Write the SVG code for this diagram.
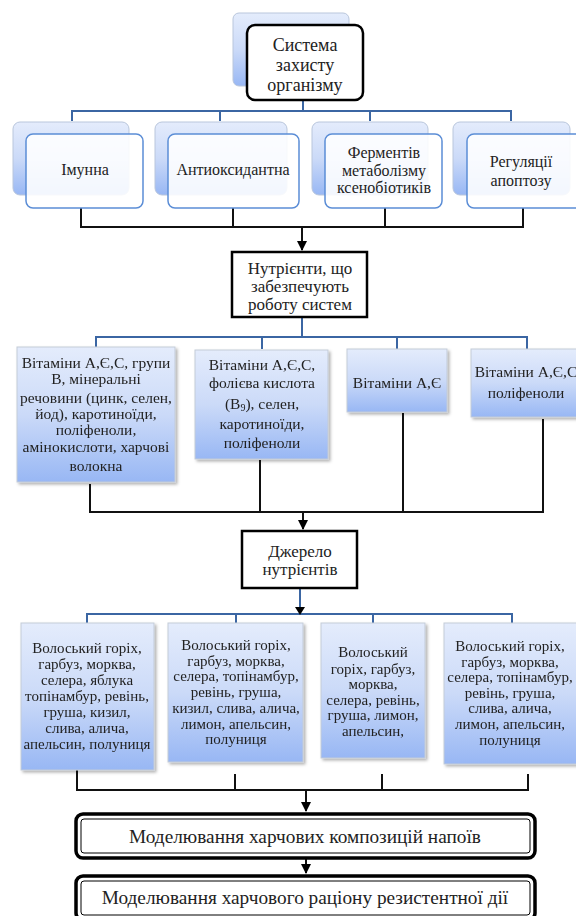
<svg xmlns="http://www.w3.org/2000/svg" width="576" height="916" viewBox="0 0 576 916" font-family="Liberation Serif, Times New Roman, serif">
<defs>
<linearGradient id="gb" x1="0" y1="0" x2="0" y2="1">
<stop offset="0" stop-color="#e4ecfc"/>
<stop offset="0.5" stop-color="#cbdaf8"/>
<stop offset="1" stop-color="#98b7f4"/>
</linearGradient>
<filter id="sh" x="-10%" y="-10%" width="130%" height="130%">
<feDropShadow dx="2" dy="2" stdDeviation="1.5" flood-color="#000" flood-opacity="0.3"/>
</filter>
<marker id="ah" viewBox="0 0 10 10" refX="9" refY="5" markerWidth="5" markerHeight="5" orient="auto">
<path d="M0,0 L10,5 L0,10 z" fill="#000"/>
</marker>
</defs>
<style>
text{fill:#222;text-anchor:middle}
.t15{font-size:15px}
.t155{font-size:15.5px}
.t16{font-size:16px}
.t17{font-size:17px}
.t18{font-size:18px}
.t19{font-size:19.3px}
.back{fill:url(#gb);stroke:#b9c6dc;stroke-width:1}
.front{fill:#fff;fill-opacity:0.88;stroke:#5b8dd6;stroke-width:1.5}
.grad{fill:url(#gb);stroke:#c3cbd8;stroke-width:1}
.blk{fill:#fff;stroke:#000;stroke-width:2.5}
.blue{fill:none;stroke:#3b66a3;stroke-width:2}
.line{fill:none;stroke:#111;stroke-width:2}
</style>

<g id="connectors">
<path class="blue" d="M303,100 V111 M72,121 V111 H511 V121 M220,111 V121 M370,111 V121"/>
<path class="line" d="M81,208 V227 H523 V208 M233,208 V227 M385,208 V227"/>
<path class="line" d="M302,227 V250" marker-end="url(#ah)"/>
<path class="blue" d="M302,317 V337 M96,347 V337 H527 V349 M262,349 V337 M397,349 V337"/>
<path class="line" d="M90,484 V512 H543 V419 M260,460 V512 M403,413 V512"/>
<path class="line" d="M303,512 V529" marker-end="url(#ah)"/>
<path class="blue" d="M87,623 V614 H512 V623 M236,623 V614 M373,623 V614"/>
<path class="blue" d="M300,588 V612"/>
<path d="M295,607 L305,607 L300,615 z" fill="#000"/>
<path class="line" d="M77,770 V790 H528 V774 M235,774 V790 M382,774 V790"/>
<path class="line" d="M306,790 V811" marker-end="url(#ah)"/>
<path class="line" d="M306,858 V873" marker-end="url(#ah)"/>
</g>

<g id="n-system">
<rect x="233" y="13" width="116" height="73" rx="6" class="back"/>
<rect x="247" y="25" width="116" height="75" rx="8" class="blk" stroke-width="3"/>
<text class="t18" x="305" y="51">Система</text>
<text class="t18" x="305" y="71">захисту</text>
<text class="t18" x="305" y="91">організму</text>
</g>

<g id="n-imunna">
<rect x="13" y="122" width="116" height="73" rx="7" class="back"/>
<rect x="26" y="134" width="117" height="74" rx="7" class="front"/>
<text class="t16" x="85" y="175">Імунна</text>
</g>
<g id="n-antiox">
<rect x="155" y="122" width="132" height="73" rx="7" class="back"/>
<rect x="168" y="134" width="131" height="74" rx="7" class="front"/>
<text class="t16" x="233" y="175">Антиоксидантна</text>
</g>
<g id="n-ferment">
<rect x="312" y="122" width="116" height="73" rx="7" class="back"/>
<rect x="325" y="134" width="117" height="74" rx="7" class="front"/>
<text class="t16" x="384" y="158">Ферментів</text>
<text class="t16" x="384" y="176">метаболізму</text>
<text class="t16" x="384" y="193">ксенобіотиків</text>
</g>
<g id="n-regul">
<rect x="453" y="122" width="117" height="73" rx="7" class="back"/>
<rect x="467" y="134" width="117" height="74" rx="7" class="front"/>
<text class="t16" x="521" y="167">Регуляції</text>
<text class="t16" x="521" y="186">апоптозу</text>
</g>

<g id="n-nutrients">
<rect x="232" y="252" width="135" height="65" class="blk"/>
<text class="t17" x="300" y="274">Нутрієнти, що</text>
<text class="t17" x="300" y="292">забезпечують</text>
<text class="t17" x="300" y="310">роботу систем</text>
</g>

<g id="n-vit1" filter="url(#sh)">
<rect x="17" y="347" width="158" height="135" class="grad"/>
<text class="t155" x="96" y="368">Вітаміни А,Є,С, групи</text>
<text class="t155" x="96" y="384">В, мінеральні</text>
<text class="t155" x="96" y="403">речовини (цинк,  селен,</text>
<text class="t155" x="96" y="419">йод), каротиноїди,</text>
<text class="t155" x="96" y="435">поліфеноли,</text>
<text class="t155" x="96" y="452">амінокислоти, харчові</text>
<text class="t155" x="96" y="471">волокна</text>
</g>
<g id="n-vit2" filter="url(#sh)">
<rect x="195" y="350" width="133" height="109" class="grad"/>
<text class="t155" x="262" y="370">Вітаміни А,Є,С,</text>
<text class="t155" x="262" y="388">фолієва кислота</text>
<text class="t155" x="262" y="409">(B<tspan font-size="10" dy="2">9</tspan><tspan dy="-2">),  селен,</tspan></text>
<text class="t155" x="262" y="429">каротиноїди,</text>
<text class="t155" x="262" y="448">поліфеноли</text>
</g>
<g id="n-vit3" filter="url(#sh)">
<rect x="347" y="349" width="100" height="63" class="grad"/>
<text class="t155" x="397" y="388">Вітаміни А,Є</text>
</g>
<g id="n-vit4" filter="url(#sh)">
<rect x="471" y="349" width="110" height="68" class="grad"/>
<text class="t155" x="526" y="377">Вітаміни А,Є,С</text>
<text class="t155" x="526" y="398">поліфеноли</text>
</g>

<g id="n-source">
<rect x="242" y="531" width="115" height="57" class="blk"/>
<text class="t17" x="300" y="557">Джерело</text>
<text class="t17" x="300" y="575">нутрієнтів</text>
</g>

<g id="n-src1" filter="url(#sh)">
<rect x="21" y="623" width="133" height="147" class="grad"/>
<text class="t15" x="87" y="653">Волоський горіх,</text>
<text class="t15" x="87" y="669">гарбуз, морква,</text>
<text class="t15" x="87" y="685">селера, яблука</text>
<text class="t15" x="87" y="701">топінамбур, ревінь,</text>
<text class="t15" x="87" y="717">груша, кизил,</text>
<text class="t15" x="87" y="733">слива, алича,</text>
<text class="t15" x="87" y="749">апельсин, полуниця</text>
</g>
<g id="n-src2" filter="url(#sh)">
<rect x="168" y="623" width="135" height="139" class="grad"/>
<text class="t15" x="236" y="650">Волоський горіх,</text>
<text class="t15" x="236" y="666">гарбуз, морква,</text>
<text class="t15" x="236" y="681">селера, топінамбур,</text>
<text class="t15" x="236" y="697">ревінь, груша,</text>
<text class="t15" x="236" y="713">кизил, слива, алича,</text>
<text class="t15" x="236" y="729">лимон, апельсин,</text>
<text class="t15" x="236" y="744">полуниця</text>
</g>
<g id="n-src3" filter="url(#sh)">
<rect x="321" y="623" width="104" height="135" class="grad"/>
<text class="t15" x="373" y="657">Волоський</text>
<text class="t15" x="373" y="674">горіх, гарбуз,</text>
<text class="t15" x="373" y="689">морква,</text>
<text class="t15" x="373" y="705">селера, ревінь,</text>
<text class="t15" x="373" y="720">груша, лимон,</text>
<text class="t15" x="373" y="736">апельсин,</text>
</g>
<g id="n-src4" filter="url(#sh)">
<rect x="444" y="623" width="135" height="141" class="grad"/>
<text class="t15" x="510" y="651">Волоський горіх,</text>
<text class="t15" x="510" y="667">гарбуз, морква,</text>
<text class="t15" x="510" y="682">селера, топінамбур,</text>
<text class="t15" x="510" y="698">ревінь, груша,</text>
<text class="t15" x="510" y="713">слива, алича,</text>
<text class="t15" x="510" y="729">лимон, апельсин,</text>
<text class="t15" x="510" y="745">полуниця</text>
</g>

<g id="n-model1">
<rect x="76" y="814" width="459" height="44" rx="7" fill="#fff" stroke="#000" stroke-width="3.5"/>
<rect x="81" y="819" width="449" height="34" rx="3" fill="none" stroke="#000" stroke-width="1"/>
<text class="t19" x="305" y="843">Моделювання харчових композицій напоїв</text>
</g>
<g id="n-model2">
<rect x="76" y="876" width="459" height="44" rx="7" fill="#fff" stroke="#000" stroke-width="3.5"/>
<rect x="81" y="881" width="449" height="34" rx="3" fill="none" stroke="#000" stroke-width="1"/>
<text class="t19" x="305" y="904">Моделювання харчового раціону резистентної дії</text>
</g>
</svg>
